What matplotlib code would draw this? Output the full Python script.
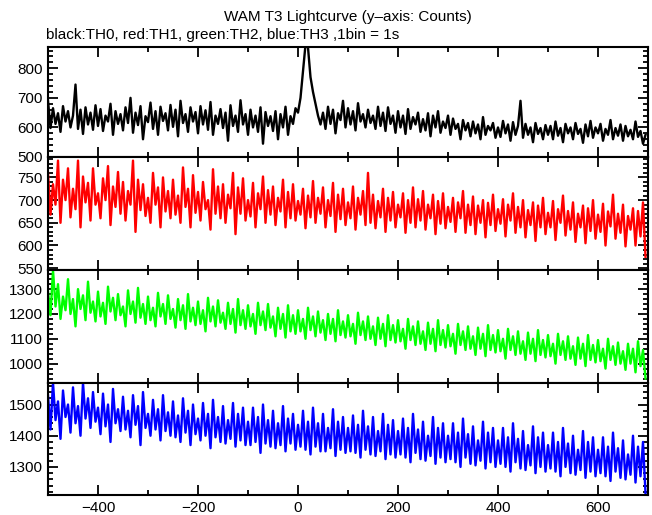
import numpy as np
import matplotlib
matplotlib.use('Agg')
import matplotlib.pyplot as plt
from matplotlib.ticker import MultipleLocator

t = np.arange(-500, 700, 5)

th0 = [690, 598, 665, 612, 648, 585, 672, 620, 655, 600,
       640, 745, 595, 660, 578, 668, 610, 650, 592, 675,
       605, 662, 588, 640, 620, 680, 575, 655, 612, 645,
       590, 668, 615, 700, 582, 650, 608, 672, 560, 638,
       618, 684, 595, 655, 575, 670, 622, 648, 590, 676,
       602, 660, 570, 690, 615, 645, 585, 668, 620, 652,
       580, 672, 610, 658, 592, 686, 575, 640, 612, 662,
       598, 650, 555, 675, 605, 640, 585, 692, 610, 645,
       575, 660, 600, 640, 585, 668, 545, 652, 605, 638,
       588, 655, 560, 645, 600, 670, 575, 638, 612, 665,
       650, 700, 790, 880, 870, 770, 720, 680, 640, 610,
       650, 595, 670, 612, 660, 580, 648, 625, 690, 600,
       665, 610, 655, 590, 682, 620, 645, 600, 660, 615,
       640, 595, 670, 605, 650, 588, 668, 612, 640, 582,
       655, 600, 640, 578, 662, 595, 635, 610, 650, 585,
       628, 590, 648, 570, 640, 600, 655, 582, 620, 598,
       640, 575, 630, 595, 612, 560, 625, 590, 615, 570,
       620, 580, 610, 560, 635, 575, 605, 590, 615, 565,
       600, 568, 622, 580, 610, 555, 618, 575, 605, 690,
       565, 612, 575, 600, 550, 615, 578, 598, 560, 608,
       575, 605, 560, 620, 572, 598, 550, 612, 580, 600,
       560, 615, 578, 595, 548, 610, 570, 622, 565, 600,
       580, 612, 555, 595, 575, 625, 560, 598, 572, 610,
       555, 605, 570, 592, 560, 620, 568, 588, 545, 575]

th1 = [760, 668, 735, 690, 787, 650, 745, 700, 770, 662,
       725, 680, 787, 640, 752, 695, 738, 655, 770, 690,
       715, 660, 748, 700, 775, 645, 730, 685, 762, 670,
       740, 655, 720, 690, 787, 630, 745, 678, 735, 665,
       705, 650, 760, 690, 728, 640, 750, 675, 720, 660,
       745, 668, 710, 650, 772, 685, 725, 640, 755, 672,
       718, 655, 740, 680, 700, 635, 768, 670, 730, 660,
       735, 650, 712, 682, 760, 625, 728, 670, 748, 655,
       700, 664, 738, 640, 715, 680, 752, 650, 722, 668,
       730, 645, 705, 675, 745, 640, 718, 660, 735, 655,
       698, 668, 725, 638, 710, 662, 742, 650, 705, 670,
       728, 640, 700, 665, 738, 630, 712, 658, 725, 645,
       695, 660, 730, 635, 705, 668, 720, 645, 760, 650,
       712, 638, 698, 662, 725, 630, 705, 655, 718, 640,
       690, 662, 715, 628, 700, 650, 728, 640, 702, 655,
       720, 635, 690, 660, 712, 625, 698, 648, 715, 638,
       685, 652, 705, 630, 695, 660, 720, 628, 690, 645,
       708, 625, 688, 650, 700, 618, 694, 645, 712, 632,
       680, 648, 702, 620, 690, 655, 715, 628, 685, 640,
       700, 618, 678, 645, 695, 610, 688, 640, 705, 625,
       672, 640, 698, 612, 680, 650, 710, 622, 676, 635,
       695, 608, 670, 640, 688, 605, 682, 632, 700, 615,
       668, 630, 692, 600, 675, 642, 712, 615, 670, 628,
       690, 598, 665, 635, 682, 600, 676, 620, 695, 575]

th2 = [1290, 1195, 1376, 1230, 1320, 1180, 1270, 1215, 1340, 1200,
       1260, 1150, 1300, 1220, 1275, 1175, 1330, 1205, 1250, 1170,
       1290, 1190, 1245, 1160, 1310, 1210, 1265, 1175, 1280, 1195,
       1230, 1150, 1295, 1200, 1250, 1165, 1305, 1185, 1240, 1160,
       1270, 1175, 1225, 1150, 1285, 1190, 1240, 1160, 1275, 1180,
       1220, 1145, 1260, 1175, 1235, 1140, 1280, 1170, 1225, 1155,
       1250, 1160, 1215, 1130, 1265, 1170, 1230, 1150, 1255, 1165,
       1205, 1140, 1245, 1160, 1220, 1125, 1260, 1155, 1215, 1140,
       1235, 1150, 1200, 1120, 1245, 1155, 1210, 1135, 1240, 1145,
       1190, 1110, 1225, 1140, 1200, 1105, 1235, 1130, 1195, 1120,
       1215, 1130, 1180, 1100, 1225, 1135, 1190, 1110, 1210, 1125,
       1175, 1095, 1200, 1120, 1180, 1090, 1215, 1115, 1170, 1105,
       1195, 1110, 1160, 1080, 1205, 1115, 1170, 1095, 1190, 1100,
       1150, 1075, 1185, 1100, 1160, 1070, 1195, 1095, 1155, 1085,
       1175, 1090, 1140, 1060, 1180, 1095, 1150, 1075, 1170, 1080,
       1130, 1055, 1165, 1080, 1140, 1050, 1175, 1075, 1135, 1065,
       1155, 1070, 1120, 1040, 1160, 1075, 1130, 1055, 1150, 1060,
       1110, 1035, 1145, 1060, 1120, 1030, 1155, 1055, 1115, 1045,
       1135, 1050, 1100, 1020, 1140, 1055, 1110, 1035, 1130, 1040,
       1090, 1015, 1125, 1040, 1100, 1010, 1135, 1035, 1095, 1025,
       1115, 1030, 1080, 1000, 1120, 1035, 1090, 1015, 1110, 1020,
       1070, 995, 1105, 1020, 1080, 990, 1115, 1015, 1075, 1005,
       1095, 1010, 1060, 980, 1100, 1015, 1070, 995, 1085, 1000,
       1050, 975, 1080, 1000, 1060, 965, 1090, 990, 1055, 940]

th3 = [1530, 1420, 1570, 1450, 1510, 1390, 1545, 1460, 1500, 1410,
       1555, 1440, 1495, 1400, 1570, 1455, 1520, 1425, 1540, 1445,
       1490, 1405, 1535, 1430, 1500, 1380, 1550, 1440, 1485, 1415,
       1525, 1420, 1480, 1395, 1530, 1435, 1495, 1370, 1540, 1425,
       1470, 1400, 1515, 1420, 1485, 1385, 1530, 1415, 1475, 1400,
       1510, 1395, 1465, 1380, 1520, 1410, 1480, 1370, 1500, 1405,
       1455, 1385, 1505, 1400, 1470, 1360, 1515, 1395, 1460, 1380,
       1495, 1375, 1450, 1390, 1505, 1365, 1470, 1385, 1490, 1370,
       1445, 1370, 1490, 1380, 1460, 1345, 1500, 1375, 1450, 1365,
       1480, 1360, 1440, 1370, 1495, 1350, 1455, 1375, 1470, 1355,
       1435, 1365, 1480, 1355, 1445, 1340, 1490, 1365, 1440, 1350,
       1470, 1350, 1425, 1360, 1485, 1335, 1445, 1355, 1460, 1345,
       1425, 1350, 1465, 1345, 1435, 1330, 1480, 1355, 1430, 1340,
       1460, 1335, 1415, 1350, 1470, 1325, 1435, 1340, 1450, 1330,
       1415, 1340, 1455, 1330, 1425, 1315, 1470, 1345, 1420, 1325,
       1445, 1320, 1400, 1335, 1460, 1310, 1425, 1330, 1440, 1315,
       1400, 1325, 1440, 1315, 1410, 1300, 1455, 1330, 1405, 1310,
       1430, 1305, 1385, 1320, 1445, 1295, 1410, 1315, 1425, 1300,
       1385, 1310, 1425, 1300, 1395, 1285, 1440, 1315, 1390, 1295,
       1415, 1290, 1370, 1305, 1430, 1280, 1395, 1300, 1410, 1285,
       1370, 1295, 1410, 1285, 1380, 1270, 1425, 1300, 1375, 1280,
       1400, 1275, 1355, 1290, 1415, 1265, 1380, 1285, 1395, 1270,
       1355, 1280, 1395, 1270, 1365, 1255, 1410, 1285, 1360, 1265,
       1385, 1260, 1340, 1275, 1400, 1250, 1365, 1270, 1380, 1215]

series = [th0, th1, th2, th3]
colors = ['black', '#ff0000', '#00ff00', '#0000ff']
ylims = [(500, 872), (546, 795), (922, 1377), (1210, 1569)]
ymajor = [100, 50, 100, 100]
yminor = [20, 10, 20, 20]

plt.rcParams['font.family'] = 'Liberation Sans'
plt.rcParams['font.size'] = 11

fig = plt.figure(figsize=(6.52, 5.15), dpi=100)

# panel edges in pixels (top, bottom)
edges = [(47, 157), (157, 270), (270, 383), (383, 495)]
W, H = 652.0, 515.0
for i, (top, bot) in enumerate(edges):
    ax = fig.add_axes([48 / W, 1 - bot / H, 600 / W, (bot - top) / H])
    ax.plot(t, series[i], color=colors[i], lw=1.7)
    ax.set_xlim(-500, 700)
    ax.set_ylim(*ylims[i])
    ax.xaxis.set_major_locator(MultipleLocator(200))
    ax.xaxis.set_minor_locator(MultipleLocator(100))
    ax.yaxis.set_major_locator(MultipleLocator(ymajor[i]))
    ax.yaxis.set_minor_locator(MultipleLocator(yminor[i]))
    ax.tick_params(which='both', direction='in', top=True, right=True, width=1.3)
    ax.tick_params(which='major', length=7, labelsize=11, pad=4)
    ax.tick_params(which='minor', length=3.5)
    for s in ax.spines.values():
        s.set_linewidth(1.5)
    if i < 3:
        ax.tick_params(labelbottom=False)

fig.text(348 / W, 1 - 17 / H, 'WAM T3 Lightcurve (y\u2013axis: Counts)', ha='center', va='center', fontsize=11)
fig.text(46 / W, 1 - 35 / H, 'black:TH0, red:TH1, green:TH2, blue:TH3 ,1bin = 1s', ha='left', va='center', fontsize=11)

fig.savefig('out.png', dpi=100)
